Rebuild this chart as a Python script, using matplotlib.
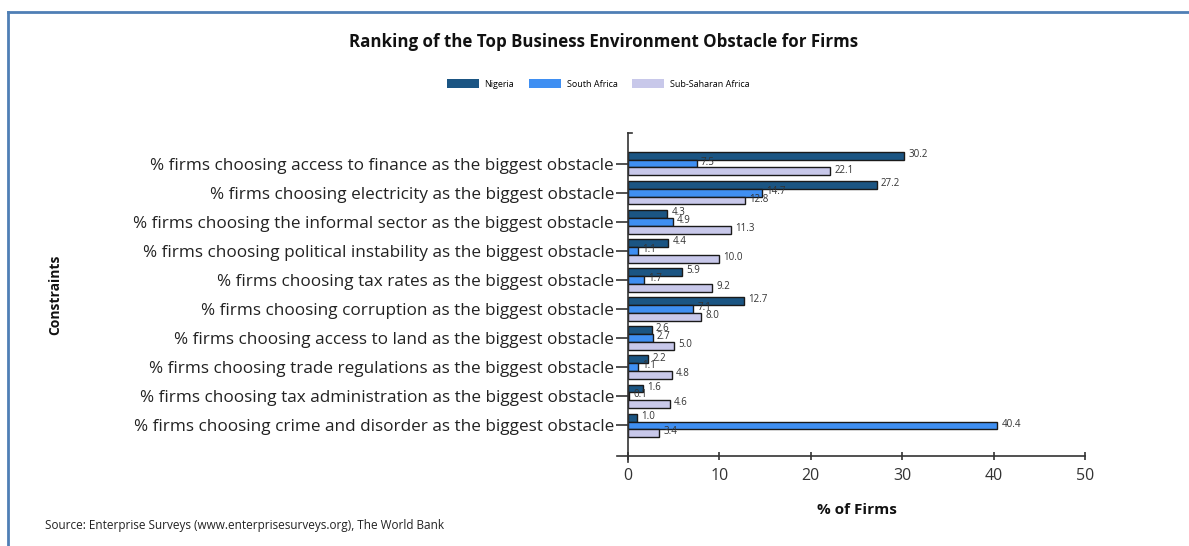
import numpy as np
import matplotlib
matplotlib.use("Agg")
import matplotlib.pyplot as plt
from matplotlib.patches import Patch
from matplotlib.lines import Line2D

# data
constraints = [
    "% firms choosing access to finance as the biggest obstacle",
    "% firms choosing electricity as the biggest obstacle",
    "% firms choosing the informal sector as the biggest obstacle",
    "% firms choosing political instability as the biggest obstacle",
    "% firms choosing tax rates as the biggest obstacle",
    "% firms choosing corruption as the biggest obstacle",
    "% firms choosing access to land as the biggest obstacle",
    "% firms choosing trade regulations as the biggest obstacle",
    "% firms choosing tax administration as the biggest obstacle",
    "% firms choosing crime and disorder as the biggest obstacle",
]
nigeria = [30.2, 27.2, 4.3, 4.4, 5.9, 12.7, 2.6, 2.2, 1.6, 1.0]
south_africa = [7.5, 14.7, 4.9, 1.1, 1.7, 7.1, 2.7, 1.1, 0.1, 40.4]
ssa = [22.1, 12.8, 11.3, 10.0, 9.2, 8.0, 5.0, 4.8, 4.6, 3.4]

series = [("Nigeria", nigeria, "#1b5583"),
          ("South Africa", south_africa, "#3f8ff2"),
          ("Sub-Saharan Africa", ssa, "#c8c8ea")]

plt.rcParams['font.family'] = ['Open Sans', 'DejaVu Sans']

fig = plt.figure(figsize=(11.89, 5.46), dpi=100)
ax = fig.add_axes([628 / 1189, 1 - 456 / 546, (1085 - 628) / 1189, (456 - 133) / 546])

y = np.arange(len(constraints))
h = 0.27
for i, (name, vals, col) in enumerate(series):
    pos = y + (i - 1) * h
    ax.barh(pos, vals, height=h, color=col, edgecolor="#1a1a1a", linewidth=1.0, label=name)
    for yy, v in zip(pos, vals):
        ax.annotate(f"{v:.1f}", (v, yy), xytext=(3, 1), textcoords="offset points",
                    va="center", ha="left", fontsize=7, color="#333333")

ax.set_xlim(0, 50)
ax.set_ylim(len(constraints) + 0.05, -1.05)
ax.set_xticks(range(0, 51, 10))
ax.set_yticks(y)
ax.set_yticklabels(constraints, fontsize=12.3, color="#222222")
ax.tick_params(axis="y", length=9, width=1.2, color="#333333", pad=1)
ax.tick_params(axis="x", direction="inout", length=6, width=1.2, color="#333333",
               labelsize=11.5, labelcolor="#333333", pad=6)
for s in ["top", "right"]:
    ax.spines[s].set_visible(False)
for s in ["left", "bottom"]:
    ax.spines[s].set_color("#333333")
    ax.spines[s].set_linewidth(1.2)

# axis cross at the origin and stub at top of y axis
ax.plot([-0.025, 0], [0, 0], transform=ax.transAxes, color="#333333", lw=1.2, clip_on=False)
ax.plot([0, 0], [0, -0.02], transform=ax.transAxes, color="#333333", lw=1.2, clip_on=False)
ax.plot([0, 0.009], [1, 1], transform=ax.transAxes, color="#333333", lw=1.2, clip_on=False)

fig.text(604 / 1189, 1 - 42 / 546, "Ranking of the Top Business Environment Obstacle for Firms",
         ha="center", va="center", fontsize=12.2, fontweight="bold", color="#111111")
fig.text(857 / 1189, 1 - 510 / 546, "% of Firms", ha="center", va="center",
         fontsize=11, fontweight="bold", color="#111111")
fig.text(55 / 1189, 1 - 295 / 546, "Constraints", ha="center", va="center", rotation=90,
         fontsize=10, fontweight="bold", color="#111111")
fig.text(45 / 1189, 1 - 525 / 546, "Source: Enterprise Surveys (www.enterprisesurveys.org), The World Bank",
         ha="left", va="center", fontsize=8.5, color="#222222")

handles = [Patch(facecolor=c, edgecolor="none") for _, _, c in series]
fig.legend(handles, [n for n, _, _ in series], loc="center", bbox_to_anchor=(598 / 1189, 1 - 84 / 546),
           ncol=3, frameon=False, fontsize=6.5, handlelength=3.6, handleheight=1.0,
           columnspacing=1.6, handletextpad=0.6)

# outer frame (cut off at right and bottom like the screenshot)
fig.add_artist(Line2D([8 / 1189, 8 / 1189], [0, 1 - 12 / 546], color="#4f7fb5", lw=2))
fig.add_artist(Line2D([8 / 1189, 1], [1 - 12 / 546, 1 - 12 / 546], color="#4f7fb5", lw=2))

fig.savefig("out.png", dpi=100)
